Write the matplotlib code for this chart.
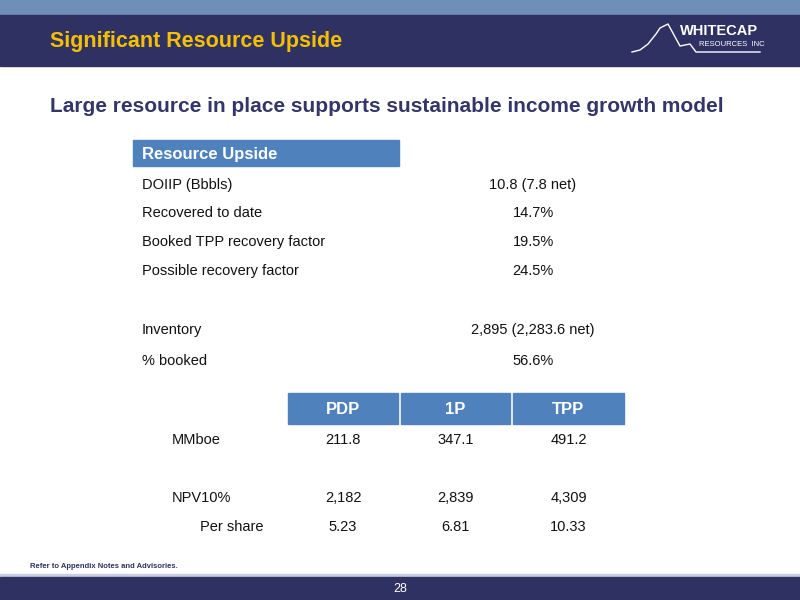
import matplotlib
matplotlib.use("Agg")
import matplotlib.pyplot as plt
from matplotlib.patches import Rectangle

plt.rcParams['font.family'] = ['Liberation Sans', 'DejaVu Sans']

NAVY = "#2f3163"
BLUE = "#4f81bd"

title = "Significant Resource Upside"
subtitle = "Large resource in place supports sustainable income growth model"

upside_labels = ["DOIIP (Bbbls)", "Recovered to date", "Booked TPP recovery factor",
                 "Possible recovery factor", "Inventory", "% booked"]
upside_values = ["10.8 (7.8 net)", "14.7%", "19.5%", "24.5%", "2,895 (2,283.6 net)", "56.6%"]
upside_y = [185, 213, 242, 271, 330, 361]

cases = ["PDP", "1P", "TPP"]
mmboe = ["211.8", "347.1", "491.2"]
npv10 = ["2,182", "2,839", "4,309"]
per_share = ["5.23", "6.81", "10.33"]

fig = plt.figure(figsize=(8, 6), dpi=100)
ax = fig.add_axes([0, 0, 1, 1])
ax.set_xlim(0, 800)
ax.set_ylim(600, 0)
ax.axis("off")

# header bars
ax.add_patch(Rectangle((0, 0), 800, 15, color="#6f8fb8"))
ax.add_patch(Rectangle((0, 15), 800, 51, color=NAVY))
ax.text(50, 41, title, color="#f5c000", fontsize=15.5, fontweight="bold", va="center")

# logo
ax.text(680, 31, "WHITECAP", color="white", fontsize=10.5, fontweight="bold", va="center")
ax.text(699, 45, "RESOURCES  INC", color="white", fontsize=5.5, va="center")
ax.plot([632, 640, 648, 656, 660, 664, 668, 680, 690, 696, 760],
        [52, 50, 44, 34, 28, 26, 24, 46, 44, 52, 52], color="white", lw=1.0)

# soft band near bottom
ax.add_patch(Rectangle((0, 574), 800, 3, color="#c9cfe0"))
ax.add_patch(Rectangle((0, 577), 800, 23, color=NAVY))
ax.text(400, 589, "28", color="white", fontsize=9, ha="center", va="center")
ax.text(30, 566, "Refer to Appendix Notes and Advisories.", color=NAVY, fontsize=5.5,
        fontweight="bold", va="center")

ax.text(50, 106, subtitle, color="#34366a", fontsize=15, fontweight="bold", va="center")

# resource upside table
ax.add_patch(Rectangle((133, 140), 266, 26, color=BLUE))
ax.text(142, 154, "Resource Upside", color="white", fontsize=12, fontweight="bold", va="center")
for lab, val, y in zip(upside_labels, upside_values, upside_y):
    ax.text(142, y, lab, fontsize=10.5, color="#111111", va="center")
    ax.text(533, y, val, fontsize=10.5, color="#111111", va="center", ha="center")

# reserves table
box_x = [288, 401, 513]
box_w = [110, 109, 111]
col_c = [x + w / 2 for x, w in zip(box_x, box_w)]
for x, w, c, name in zip(box_x, box_w, col_c, cases):
    ax.add_patch(Rectangle((x, 393), w, 31, color=BLUE))
    ax.text(c, 409, name, color="white", fontsize=12, fontweight="bold", ha="center", va="center")

rows = [("MMboe", 172, 440, mmboe), ("NPV10%", 172, 498, npv10), ("Per share", 200, 527, per_share)]
for lab, lx, y, vals in rows:
    ax.text(lx, y, lab, fontsize=10.5, color="#111111", va="center")
    for c, v in zip(col_c, vals):
        ax.text(c, y, v, fontsize=10.5, color="#111111", ha="center", va="center")

fig.savefig("out.png", dpi=100)
